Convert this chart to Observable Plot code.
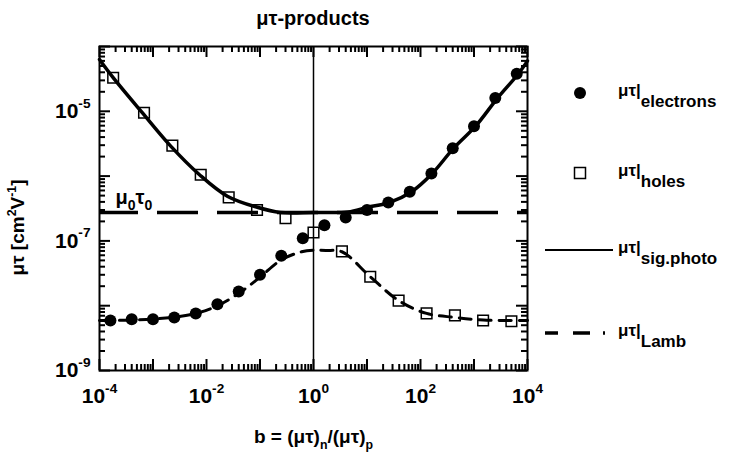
<!DOCTYPE html>
<html><head><meta charset="utf-8">
<script src="https://cdn.jsdelivr.net/npm/d3@7"></script>
<script src="https://cdn.jsdelivr.net/npm/@observablehq/plot@0.6"></script>
<style>
html,body{margin:0;padding:0;background:#fff;}
#wrap{position:relative;width:733px;height:456px;font-family:"Liberation Sans",Arial,sans-serif;color:#000;overflow:hidden;}
#title{height:36px;width:626px;text-align:center;font-size:20px;font-weight:bold;line-height:36px;}
#legend{position:absolute;left:540px;top:0;}
</style></head>
<body><div id="wrap"><div id="title">μτ-products</div><div id="chart"></div><svg id="legend" width="193" height="456"></svg></div>
<script>
// ---------- data ----------
const electronB = [1.6e-4, 4e-4, 1e-3, 2.5e-3, 6.3e-3, 1.6e-2, 4e-2, 0.1, 0.25, 0.63, 1.6, 4, 10, 25, 63, 160, 400, 1000, 2500, 6300];
const electronMuTau = [5.9e-9, 6.2e-9, 6.2e-9, 6.6e-9, 7.6e-9, 1.05e-8, 1.66e-8, 3.0e-8, 5.9e-8, 1.1e-7, 1.74e-7, 2.3e-7, 3.0e-7, 3.9e-7, 5.75e-7, 1.1e-6, 2.7e-6, 5.9e-6, 1.6e-5, 3.8e-5];

const holeB = [1.8e-4, 6.8e-4, 2.3e-3, 7.8e-3, 2.6e-2, 8.8e-2, 0.3, 1, 3.4, 11.5, 39, 130, 440, 1480, 5000];
const holeMuTau = [3.3e-5, 9.5e-6, 2.95e-6, 1.05e-6, 4.7e-7, 3.0e-7, 2.24e-7, 1.35e-7, 6.9e-8, 2.8e-8, 1.2e-8, 7.6e-9, 7.1e-9, 5.9e-9, 5.75e-9];

const sigB = [1e-4, 1.8e-4, 6.3e-4, 2.1e-3, 7.4e-3, 2.45e-2, 8.9e-2, 0.24, 1, 4.4, 10.2, 26, 68, 166, 417, 1070, 2750, 6760, 1e4];
const sigMuTau = [6.3e-5, 3.3e-5, 9.5e-6, 2.95e-6, 1.05e-6, 4.9e-7, 3.3e-7, 2.75e-7, 2.75e-7, 2.8e-7, 3.3e-7, 3.9e-7, 5.75e-7, 1.1e-6, 2.7e-6, 5.9e-6, 1.6e-5, 3.8e-5, 6.0e-5];

const lambB = [1e-4, 1e-3, 6.3e-3, 1.6e-2, 4e-2, 0.1, 0.25, 0.6, 1, 1.7, 3.4, 11.5, 39, 130, 440, 1500, 1e4];
const lambMuTau = [5.9e-9, 6.2e-9, 7.6e-9, 1.0e-8, 1.55e-8, 2.75e-8, 5.1e-8, 6.8e-8, 7.2e-8, 7.1e-8, 6.8e-8, 2.8e-8, 1.2e-8, 7.6e-9, 6.6e-9, 6.0e-9, 5.9e-9];

const mu0tau0 = 2.75e-7;

const xLabelTicks = [1e-4, 1e-2, 1, 1e2, 1e4];
const xTickText = ["10^{-4}", "10^{-2}", "10^{0}", "10^{2}", "10^{4}"];
const yLabelTicks = [1e-9, 1e-7, 1e-5];
const yTickText = ["10^{-9}", "10^{-7}", "10^{-5}"];
const xMajor = [1e-4, 1e-3, 1e-2, 1e-1, 1, 1e1, 1e2, 1e3, 1e4];
const yMajor = [1e-9, 1e-8, 1e-7, 1e-6, 1e-5, 1e-4];

const legendSub = ["electrons", "holes", "sig.photo", "Lamb"];
const xTitle = "b = (μτ)_{n}/(μτ)_{p}";
const yTitle = "μτ [cm^{2}V^{-1}]";
const mu0Label = "μ_{0}τ_{0}";

// ---------- build ----------
const zip = (bs, vs) => bs.map((b, i) => ({b, v: vs[i]}));
const electrons = zip(electronB, electronMuTau);
const holes = zip(holeB, holeMuTau);
const sig = zip(sigB, sigMuTau);
const lamb = zip(lambB, lambMuTau);

const minorOf = (lo, hi) => d3.range(lo, hi).flatMap(e => d3.range(2, 10).map(m => m * Math.pow(10, e)));
const xMinor = minorOf(-4, 4);
const yMinor = minorOf(-9, -4);

const W = 733, H = 420, mT = 10, mB = 86, mL = 99, mR = 206;
const innerW = W - mL - mR, innerH = H - mT - mB;
const xDom = [1e-4, 1e4], yDom = [1e-9, 1e-4];

// inward ticks as short rules (Plot.tickX/tickY with insets), on all four sides
const xTicks = (arr, size, sw) => [
  Plot.tickX(arr, {x: d => d, insetTop: innerH - size, stroke: "black", strokeWidth: sw}),
  Plot.tickX(arr, {x: d => d, insetBottom: innerH - size, stroke: "black", strokeWidth: sw})
];
const yTicks = (arr, size, sw) => [
  Plot.tickY(arr, {y: d => d, insetRight: innerW - size, stroke: "black", strokeWidth: sw}),
  Plot.tickY(arr, {y: d => d, insetLeft: innerW - size, stroke: "black", strokeWidth: sw})
];

const chart = Plot.plot({
  width: W, height: H,
  marginTop: mT, marginBottom: mB, marginLeft: mL, marginRight: mR,
  style: {fontFamily: '"Liberation Sans", Arial, sans-serif', fontSize: "21px", fontWeight: "bold", color: "#000", background: "transparent", overflow: "visible"},
  x: {type: "log", domain: xDom},
  y: {type: "log", domain: yDom},
  marks: [
    Plot.frame({strokeWidth: 2}),
    ...xTicks(xMinor, 6, 2), ...xTicks(xMajor, 11, 2),
    ...yTicks(yMinor, 6, 2), ...yTicks(yMajor, 11, 2),
    Plot.ruleX([1], {strokeWidth: 1.5}),
    Plot.ruleY([mu0tau0], {strokeWidth: 3.5, strokeDasharray: "41,19", strokeDashoffset: 2}),
    Plot.line(lamb, {x: "b", y: "v", strokeWidth: 3, strokeDasharray: "12,8", curve: "catmull-rom"}),
    Plot.line(sig, {x: "b", y: "v", strokeWidth: 3.5, curve: "catmull-rom"}),
    Plot.dot(electrons, {x: "b", y: "v", r: 6, fill: "#000"}),
    Plot.dot(holes, {x: "b", y: "v", r: 6, symbol: "square", fill: "none", stroke: "#000", strokeWidth: 1.5}),
    Plot.text([mu0tau0], {y: d => d, frameAnchor: "left", dx: 16, dy: -15, text: () => mu0Label, textAnchor: "start", fontSize: 20}),
    Plot.axisX(xLabelTicks, {anchor: "bottom", tickSize: 0, tickPadding: 18, tickFormat: d => xTickText[xLabelTicks.indexOf(d)], label: xTitle, labelAnchor: "center", labelArrow: "none", labelOffset: 72}),
    Plot.axisY(yLabelTicks, {anchor: "left", tickSize: 0, tickPadding: 9, tickFormat: d => yTickText[yLabelTicks.indexOf(d)], label: yTitle, labelAnchor: "center", labelArrow: "none", labelOffset: 89})
  ]
});
document.getElementById("chart").appendChild(chart);

// ---------- rich text (sub/superscripts) ----------
const NS = "http://www.w3.org/2000/svg";
function rich(el, str, base, opts = {}) {
  const parts = [];
  const re = /([_^])\{([^}]*)\}/g;
  let last = 0, m;
  while ((m = re.exec(str))) {
    if (m.index > last) parts.push([str.slice(last, m.index), null]);
    parts.push([m[2], m[1] === "^" ? "sup" : "sub"]);
    last = re.lastIndex;
  }
  if (last < str.length) parts.push([str.slice(last), null]);
  el.textContent = "";
  let cur = 0;
  const subScale = opts.subScale ?? 0.65;
  parts.forEach(([s, kind], k) => {
    const t = document.createElementNS(NS, "tspan");
    const target = kind === "sup" ? -(opts.supShift ?? 0.45) * base : kind === "sub" ? (opts.subShift ?? 0.3) * base : 0;
    const dy = target - cur; cur = target;
    if (dy) t.setAttribute("dy", dy);
    if (k === 0 && opts.dx) t.setAttribute("dx", opts.dx);
    if (kind) t.setAttribute("font-size", subScale * base);
    t.textContent = s;
    el.appendChild(t);
  });
}
chart.querySelectorAll("text").forEach(el => {
  const s = el.textContent.replace(/\s*[→↑←↓]\s*/g, "").trim();
  if (!/[_^]\{/.test(s)) return;
  if (s === xTitle) { el.setAttribute("font-size", 19); rich(el, s, 19, {subShift: 0.35}); }
  else if (s === yTitle) { el.setAttribute("font-size", 19); rich(el, s, 19, {dx: -19, supShift: 0.4}); }
  else if (s === mu0Label) { rich(el, s, 20, {subScale: 0.7, subShift: 0.3}); }
  else { rich(el, s, 21, {supShift: 0.5}); }
});

// ---------- legend ----------
const lg = d3.select("#legend");
const rows = [93, 173, 250, 333];
const symX = 40, textX = 78;
lg.append("circle").attr("cx", symX).attr("cy", rows[0]).attr("r", 6).attr("fill", "#000");
lg.append("rect").attr("x", symX - 5.5).attr("y", rows[1] - 5.5).attr("width", 11).attr("height", 11).attr("fill", "none").attr("stroke", "#000").attr("stroke-width", 1.5);
lg.append("line").attr("x1", 5).attr("x2", 73).attr("y1", rows[2]).attr("y2", rows[2]).attr("stroke", "#000").attr("stroke-width", 2);
lg.append("line").attr("x1", 5).attr("x2", 65).attr("y1", rows[3]).attr("y2", rows[3]).attr("stroke", "#000").attr("stroke-width", 3.5).attr("stroke-dasharray", "13,15,17,13,2");
legendSub.forEach((s, i) => {
  const t = lg.append("text").attr("x", textX).attr("y", rows[i] + 3)
    .attr("font-family", '"Liberation Sans", Arial, sans-serif').attr("font-weight", "bold").attr("font-size", 17).node();
  rich(t, "μτ|_{" + s + "}", 17, {subScale: 1, subShift: 0.65});
});
</script>
</body></html>
